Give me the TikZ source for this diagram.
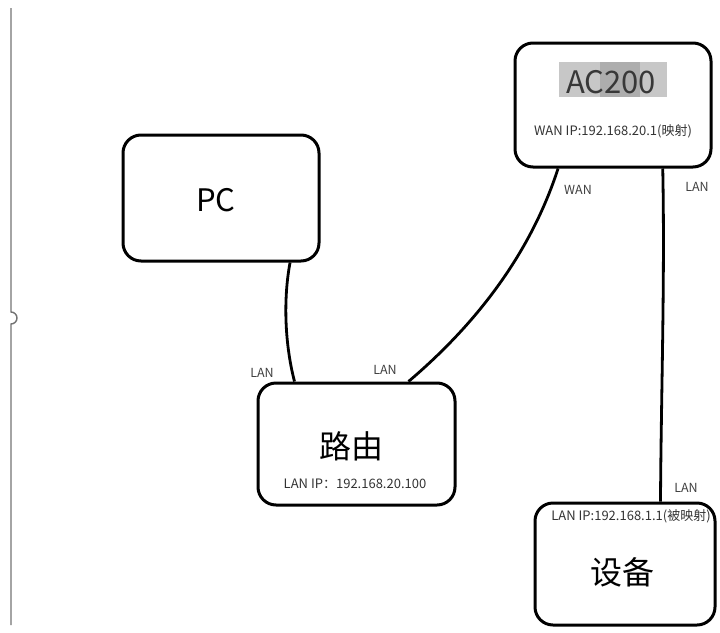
\documentclass[tikz,border=0pt]{standalone}
\usepackage{fontspec}
\setmainfont{Noto Sans CJK SC}
\usetikzlibrary{calc}
\begin{document}
\begin{tikzpicture}[x=1pt,y=-1pt,
  box/.style={draw, line width=3pt, rounded corners=18pt, inner sep=0pt},
  lnk/.style={line width=2.8pt},
  big/.style={inner sep=0pt, font=\fontsize{31}{31}\selectfont},
  ip/.style={inner sep=0pt, text=black!80, font=\fontsize{13}{13}\selectfont},
  lbl/.style={inner sep=0pt, text=black!75, font=\fontsize{12.5}{13}\selectfont}]
\useasboundingbox (0,0) rectangle (720,632);
% left edge artefact
\draw[black!55, line width=1.4pt] (11,8) -- (11,312) arc[start angle=90, end angle=-90, radius=6pt] -- (11,625);
% boxes
\node[box, minimum width=196pt, minimum height=126pt] (pc) at (221,198) {};
\node[box, minimum width=196pt, minimum height=124pt] (ac) at (613,105) {};
\node[box, minimum width=197pt, minimum height=122pt] (rt) at (356.5,444) {};
\node[box, minimum width=180pt, minimum height=122pt] (dev) at (625,564) {};
% texts
\node[big] (pct) at (216,200) {PC};
\fill[black!22] (559,62) rectangle (667,97);
\fill[black!32] (600,62) rectangle (640,97);
\node[big, text=black!78] (act) at (611,82) {AC200};
\node[ip] (acip) at (613,131) {WAN IP:192.168.20.1(映射)};
\node[big, font=\fontsize{32}{32}\selectfont] (rtt) at (351,446) {路由};
\node[ip] (rtip) at (355,484) {LAN IP：192.168.20.100};
\node[ip] (devip) at (631,516) {LAN IP:192.168.1.1(被映射)};
\node[big, font=\fontsize{32}{32}\selectfont] (devt) at (622,572) {设备};
% connectors
\draw[lnk] ($(pc.south west)!0.847!(pc.south east)$) .. controls (283,300) and (285,345) .. ($(rt.north west)!0.19!(rt.north east)$);
\draw[lnk] ($(rt.north west)!0.76!(rt.north east)$) .. controls (475,325) and (530,255) .. ($(ac.south west)!0.224!(ac.south east)$);
\draw[lnk] ($(ac.south west)!0.75!(ac.south east)$) .. controls (665,280) and (661,400) .. ($(dev.north west)!0.694!(dev.north east)$);
% labels
\node[lbl] (l1) at (262,373) {LAN};
\node[lbl] (l2) at (385,370) {LAN};
\node[lbl] (l3) at (578,190) {WAN};
\node[lbl] (l4) at (697,187) {LAN};
\node[lbl] (l5) at (686,488) {LAN};
\end{tikzpicture}
\end{document}
